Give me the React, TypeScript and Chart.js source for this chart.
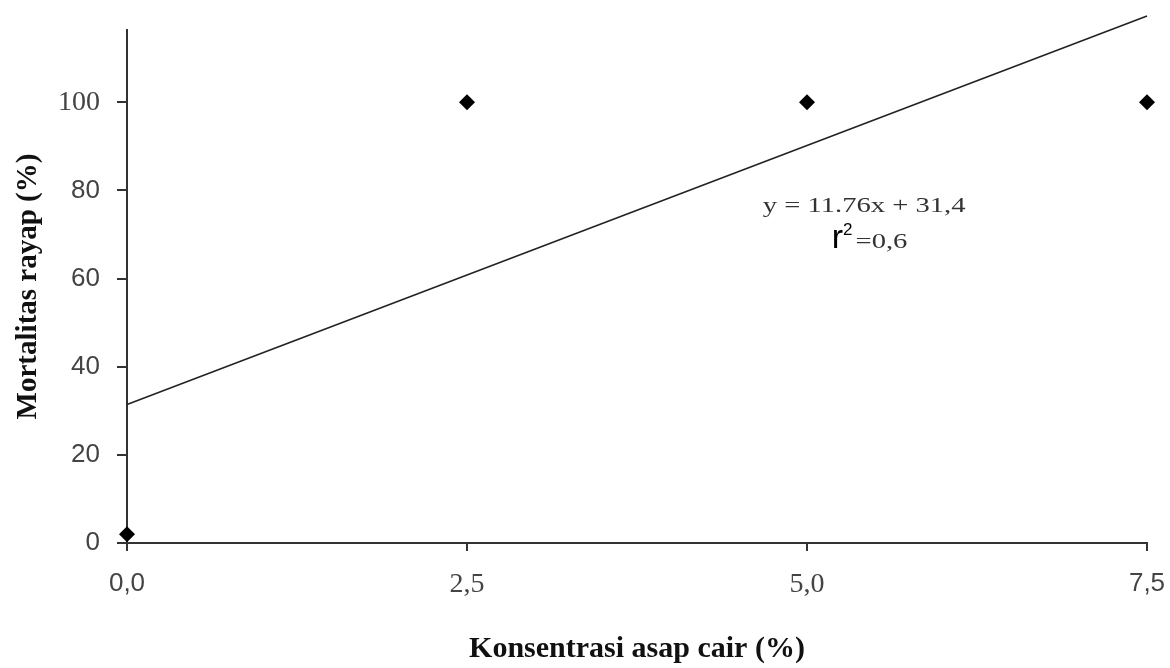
import React, { useEffect, useRef } from "react";
import { Chart, registerables } from "chart.js";

Chart.register(...registerables);

const concentration = [0, 2.5, 5, 7.5];
const mortality = [2, 100, 100, 100];
const trendX = [0, 7.5];
const trendY = [31.4, 119.6];
const xTickValues = [0, 2.5, 5, 7.5];
const yTickValues = [0, 20, 40, 60, 80, 100];
const equationText = "y = 11.76x + 31,4";
const r2Value = "=0,6";
const xTitle = "Konsentrasi asap cair (%)";
const yTitle = "Mortalitas rayap (%)";

const SERIF = "'Liberation Serif', 'Times New Roman', serif";
const SANS = "'Liberation Sans', Arial, sans-serif";

function drawStretched(ctx: any, text: string, x: number, y: number, sx: number) {
  ctx.save();
  ctx.translate(x, y);
  ctx.scale(sx, 1);
  ctx.fillText(text, 0, 0);
  ctx.restore();
}

const annotationPlugin = {
  id: "equationNote",
  afterDraw(chart: any) {
    const { ctx, scales } = chart;
    const xs = scales.x;
    const ys = scales.y;
    const sx = 1.3;
    ctx.save();
    ctx.textBaseline = "alphabetic";
    ctx.textAlign = "left";
    // line 1
    ctx.fillStyle = "#333";
    ctx.font = `22px ${SERIF}`;
    const w1 = ctx.measureText(equationText).width * sx;
    const c1 = xs.getPixelForValue(5.42);
    drawStretched(ctx, equationText, c1 - w1 / 2, ys.getPixelForValue(75.2), sx);
    // line 2: r^2 =0,6
    const cx = xs.getPixelForValue(5.46);
    const by = ys.getPixelForValue(67);
    ctx.font = `34px ${SANS}`;
    const wR = ctx.measureText("r").width;
    ctx.font = `17px ${SANS}`;
    const w2 = ctx.measureText("2").width;
    ctx.font = `22px ${SERIF}`;
    const wEq = ctx.measureText(r2Value).width * sx;
    const gap = 3;
    const total = wR + w2 + gap + wEq;
    let x = cx - total / 2;
    ctx.fillStyle = "#000";
    ctx.font = `34px ${SANS}`;
    ctx.fillText("r", x, by);
    x += wR;
    ctx.font = `17px ${SANS}`;
    ctx.fillText("2", x, by - 13);
    x += w2 + gap;
    ctx.fillStyle = "#333";
    ctx.font = `22px ${SERIF}`;
    drawStretched(ctx, r2Value, x, by, sx);
    ctx.restore();
  },
};

export default function App() {
  const ref = useRef<HTMLCanvasElement | null>(null);
  useEffect(() => {
    document.body.style.margin = "0";
    if (!ref.current) return;
    const chart = new Chart(ref.current, {
      type: "scatter",
      data: {
        datasets: [
          {
            type: "line",
            label: "trend",
            data: trendX.map((x, i) => ({ x, y: trendY[i] })),
            borderColor: "#222",
            borderWidth: 1.6,
            pointRadius: 0,
            fill: false,
            clip: false as any,
          },
          {
            type: "scatter",
            label: "Mortalitas",
            data: concentration.map((x, i) => ({ x, y: mortality[i] })),
            pointStyle: "rectRot",
            pointRadius: 8,
            backgroundColor: "#000",
            borderColor: "#000",
            borderWidth: 0,
            clip: false as any,
          },
        ],
      },
      options: {
        responsive: false,
        animation: false,
        layout: { padding: { top: 30, right: 23, left: 0, bottom: 0 } },
        plugins: { legend: { display: false }, tooltip: { enabled: false } },
        scales: {
          x: {
            type: "linear",
            min: 0,
            max: 7.5,
            afterBuildTicks: (s: any) => {
              s.ticks = xTickValues.map((v) => ({ value: v }));
            },
            afterFit: (s: any) => {
              s.height = 125;
              s.paddingLeft = 0;
              s.paddingRight = 0;
            },
            grid: {
              display: true,
              drawOnChartArea: false,
              drawTicks: true,
              tickLength: 8,
              color: "#333",
              lineWidth: 2,
            },
            border: { display: true, color: "#333", width: 2 },
            ticks: {
              padding: 17,
              color: "#444",
              maxRotation: 0,
              font: (c: any) => {
                const i = c.index;
                return i === 0 || i === xTickValues.length - 1
                  ? { family: SANS, size: 26 }
                  : { family: SERIF, size: 28 };
              },
              callback: (v: any) => Number(v).toFixed(1).replace(".", ","),
            },
            title: {
              display: true,
              text: xTitle,
              color: "#111",
              font: { family: SERIF, size: 30, weight: "bold" },
              padding: { top: 0, bottom: 1 },
            },
          },
          y: {
            type: "linear",
            min: 0,
            max: 116.4,
            afterBuildTicks: (s: any) => {
              s.ticks = yTickValues.map((v) => ({ value: v }));
            },
            afterFit: (s: any) => {
              s.width = 127;
              s.paddingTop = 0;
              s.paddingBottom = 0;
            },
            grid: {
              display: true,
              drawOnChartArea: false,
              drawTicks: true,
              tickLength: 10,
              color: "#333",
              lineWidth: 2,
            },
            border: { display: true, color: "#333", width: 2 },
            ticks: {
              padding: 17,
              color: "#444",
              font: (c: any) => {
                const v = yTickValues[c.index];
                return v === 100
                  ? { family: SERIF, size: 28 }
                  : { family: SANS, size: 26 };
              },
              callback: (v: any) => String(v),
            },
            title: {
              display: true,
              text: yTitle,
              color: "#111",
              font: { family: SERIF, size: 29, weight: "bold" },
              padding: { top: 11, bottom: 0 },
            },
          },
        },
      },
      plugins: [annotationPlugin],
    } as any);
    return () => chart.destroy();
  }, []);
  return (
    <div style={{ width: 1170, height: 668, background: "#fff" }}>
      <canvas ref={ref} width={1170} height={668} />
    </div>
  );
}
